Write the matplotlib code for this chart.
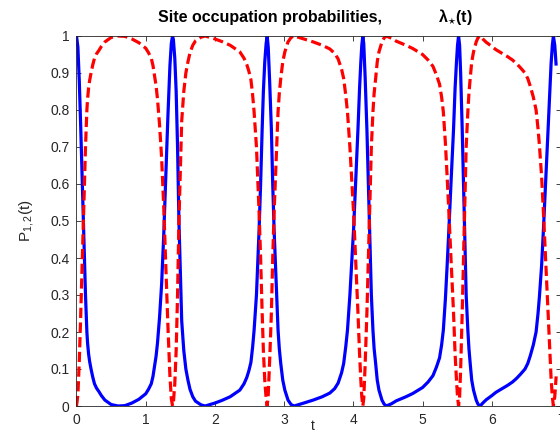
import matplotlib
matplotlib.use("Agg")
import matplotlib.pyplot as plt

# time samples (t) and the two site occupation probabilities
t = [0.00, 0.02, 0.04, 0.06, 0.08, 0.10, 0.115, 0.13, 0.15, 0.16, 0.175, 0.19, 0.21, 0.235, 0.26, 0.29, 0.32, 0.36,
     0.41, 0.50, 0.60,
     0.70, 0.80, 0.90, 1.00, 1.04, 1.08, 1.105, 1.13, 1.15, 1.17, 1.20, 1.23, 1.26, 1.29, 1.32, 1.35, 1.37, 1.388,
     1.40, 1.42, 1.44, 1.46, 1.48, 1.50, 1.52, 1.55, 1.58, 1.61, 1.64, 1.68, 1.72, 1.80, 1.86,
     2.00, 2.10, 2.22, 2.36, 2.42, 2.46, 2.49, 2.52, 2.545, 2.566, 2.60, 2.638, 2.66, 2.682, 2.70, 2.72, 2.74, 2.755,
     2.77, 2.79, 2.816, 2.835, 2.855, 2.875, 2.893, 2.912, 2.93, 2.951, 2.98, 3.01, 3.056, 3.10, 3.143,
     3.25, 3.42, 3.55, 3.66, 3.73, 3.78, 3.83, 3.86, 3.89, 3.915, 3.95, 3.98, 4.004, 4.035, 4.067, 4.09, 4.108, 4.122, 4.137,
     4.15, 4.17, 4.196, 4.215, 4.235, 4.26, 4.283, 4.30, 4.322, 4.345, 4.37, 4.413, 4.445, 4.476,
     4.55, 4.62, 4.76, 4.86, 5.00, 5.08, 5.15, 5.20, 5.245, 5.275, 5.30, 5.33, 5.355, 5.38, 5.41, 5.447, 5.47, 5.49, 5.505, 5.52,
     5.535, 5.55, 5.573, 5.59, 5.606, 5.63, 5.654, 5.67, 5.688, 5.71, 5.736, 5.775, 5.80, 5.832,
     5.87, 5.92, 6.00, 6.06, 6.15, 6.23, 6.30, 6.36, 6.42, 6.48, 6.52, 6.555, 6.60, 6.64, 6.668, 6.688, 6.72, 6.746, 6.78,
     6.813, 6.84, 6.857, 6.875, 6.89, 6.91, 6.93]

p1 = [1.00, 0.97, 0.88, 0.76, 0.63, 0.50, 0.40, 0.30, 0.20, 0.17, 0.14, 0.12, 0.10, 0.078, 0.06, 0.048, 0.04, 0.028,
      0.016, 0.004, 0.0,
      0.001, 0.008, 0.018, 0.033, 0.045, 0.06, 0.08, 0.11, 0.135, 0.17, 0.24, 0.33, 0.46, 0.62, 0.78, 0.92, 0.98, 1.00,
      0.99, 0.94, 0.85, 0.70, 0.50, 0.36, 0.23, 0.15, 0.10, 0.07, 0.045, 0.025, 0.013, 0.003, 0.0,
      0.008, 0.015, 0.025, 0.043, 0.06, 0.077, 0.095, 0.118, 0.16, 0.205, 0.30, 0.476, 0.60, 0.746, 0.85, 0.93, 0.98, 1.0,
      0.97, 0.88, 0.746, 0.60, 0.476, 0.38, 0.295, 0.205, 0.155, 0.115, 0.07, 0.043, 0.016, 0.004, 0.0,
      0.006, 0.016, 0.025, 0.035, 0.047, 0.062, 0.09, 0.115, 0.16, 0.205, 0.30, 0.40, 0.48, 0.61, 0.75, 0.86, 0.93, 0.975, 1.0,
      0.98, 0.89, 0.746, 0.61, 0.476, 0.30, 0.205, 0.155, 0.115, 0.07, 0.043, 0.016, 0.005, 0.0,
      0.006, 0.014, 0.025, 0.034, 0.05, 0.065, 0.082, 0.105, 0.13, 0.165, 0.205, 0.29, 0.38, 0.476, 0.60, 0.746, 0.86, 0.93, 0.975, 1.0,
      0.975, 0.90, 0.746, 0.61, 0.476, 0.30, 0.205, 0.155, 0.115, 0.07, 0.043, 0.016, 0.005, 0.0,
      0.008, 0.017, 0.028, 0.037, 0.047, 0.056, 0.065, 0.075, 0.087, 0.10, 0.115, 0.135, 0.165, 0.20, 0.25, 0.295, 0.38, 0.476, 0.61,
      0.746, 0.86, 0.926, 0.975, 1.0, 0.975, 0.92]

p2 = [0.00, 0.03, 0.12, 0.24, 0.37, 0.50, 0.60, 0.70, 0.80, 0.83, 0.86, 0.88, 0.90, 0.922, 0.94, 0.952, 0.96, 0.972,
      0.984, 0.996, 1.0,
      0.999, 0.992, 0.982, 0.967, 0.955, 0.94, 0.92, 0.89, 0.865, 0.83, 0.76, 0.67, 0.54, 0.38, 0.22, 0.08, 0.02, 0.00,
      0.01, 0.06, 0.15, 0.30, 0.50, 0.64, 0.77, 0.85, 0.90, 0.93, 0.955, 0.975, 0.987, 0.997, 1.0,
      0.992, 0.985, 0.975, 0.957, 0.94, 0.923, 0.905, 0.882, 0.84, 0.795, 0.70, 0.524, 0.40, 0.254, 0.15, 0.07, 0.02, 0.0,
      0.03, 0.12, 0.254, 0.40, 0.524, 0.62, 0.705, 0.795, 0.845, 0.885, 0.93, 0.957, 0.984, 0.996, 1.0,
      0.994, 0.984, 0.975, 0.965, 0.953, 0.938, 0.91, 0.885, 0.84, 0.795, 0.70, 0.60, 0.52, 0.39, 0.25, 0.14, 0.07, 0.025, 0.0,
      0.02, 0.11, 0.254, 0.39, 0.524, 0.70, 0.795, 0.845, 0.885, 0.93, 0.957, 0.984, 0.995, 1.0,
      0.994, 0.986, 0.975, 0.966, 0.95, 0.935, 0.918, 0.895, 0.87, 0.835, 0.795, 0.71, 0.62, 0.524, 0.40, 0.254, 0.14, 0.07, 0.025, 0.0,
      0.025, 0.10, 0.254, 0.39, 0.524, 0.70, 0.795, 0.845, 0.885, 0.93, 0.957, 0.984, 0.995, 1.0,
      0.992, 0.983, 0.972, 0.963, 0.953, 0.944, 0.935, 0.925, 0.913, 0.90, 0.885, 0.865, 0.835, 0.80, 0.75, 0.705, 0.62, 0.524, 0.39,
      0.254, 0.14, 0.074, 0.025, 0.0, 0.025, 0.08]

xticks = [0, 1, 2, 3, 4, 5, 6, 7]
yticks = [0, 0.1, 0.2, 0.3, 0.4, 0.5, 0.6, 0.7, 0.8, 0.9, 1]
ytick_labels = ['0', '0.1', '0.2', '0.3', '0.4', '0.5', '0.6', '0.7', '0.8', '0.9', '1']

plt.rcParams['font.family'] = ['Liberation Sans', 'DejaVu Sans']
plt.rcParams['mathtext.fontset'] = 'custom'
plt.rcParams['mathtext.rm'] = 'Liberation Sans'
plt.rcParams['mathtext.it'] = 'Liberation Sans:italic'
plt.rcParams['mathtext.bf'] = 'Liberation Sans:bold'

axc = '#262626'
fig = plt.figure(figsize=(5.6, 4.32), dpi=100)
ax = fig.add_axes([76.5 / 560, 26 / 432, 484.5 / 560, 370 / 432])

ax.plot(t, p1, color=(0, 0, 1), lw=2.3, solid_capstyle='butt')
ax.plot(t, p2, color=(1, 0, 0), lw=2.3, dashes=(3.2, 1.4))

ax.set_xlim(0, 7)
ax.set_ylim(0, 1)
ax.set_xticks(xticks)
ax.set_yticks(yticks)
ax.set_yticklabels(ytick_labels)
ax.tick_params(direction='in', top=True, right=True, length=3.6, width=0.6,
               colors=axc, labelsize=10, pad=5)
for s in ax.spines.values():
    s.set_color(axc)
    s.set_linewidth(0.6)

ax.set_xlabel('t', fontsize=10, color=axc)
ax.xaxis.set_label_coords(0.487, -0.036)
ax.set_ylabel(r'P$_{1,2}$(t)', fontsize=11, color=axc)
ax.yaxis.set_label_coords(-0.084, 0.5)

fig.text(158 / 560, 1 - 22 / 432, 'Site occupation probabilities,', fontsize=11.5,
         fontweight='bold', ha='left', va='baseline')
fig.text(438 / 560, 1 - 22 / 432, r'$\mathbf{\lambda}_{\star}$(t)', fontsize=11.5,
         fontweight='bold', ha='left', va='baseline')

fig.savefig('out.png', dpi=100)
